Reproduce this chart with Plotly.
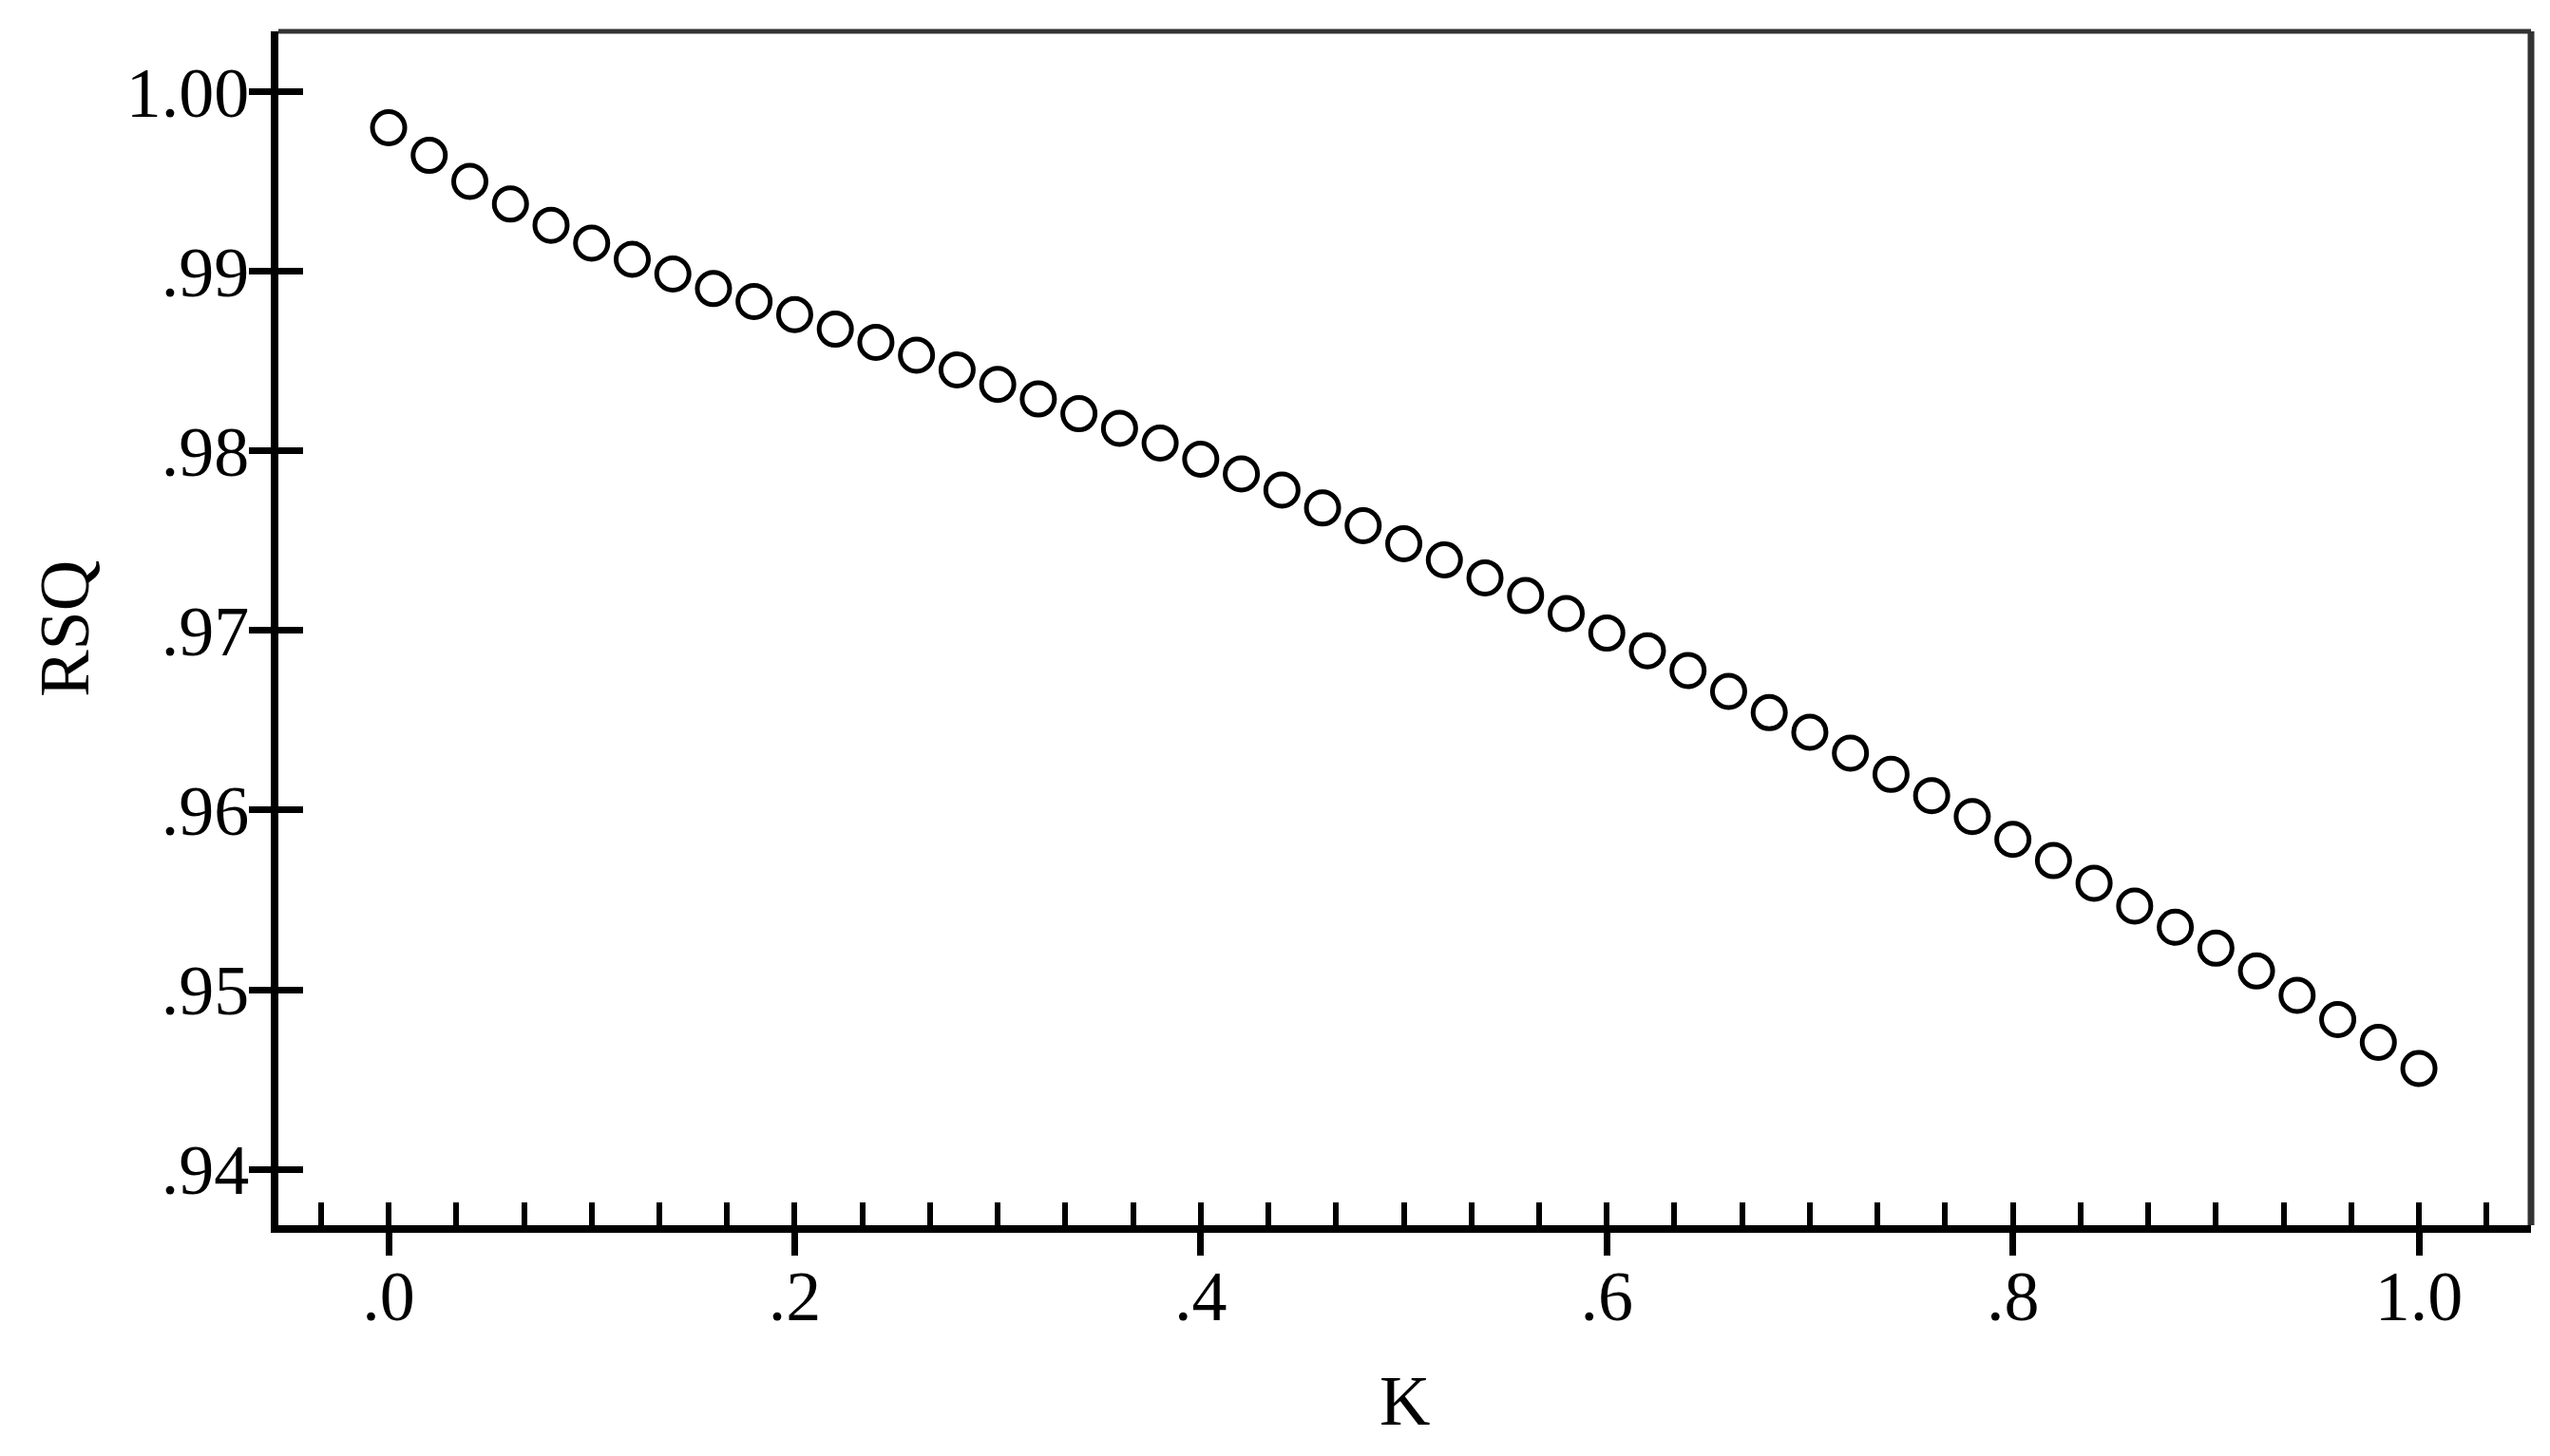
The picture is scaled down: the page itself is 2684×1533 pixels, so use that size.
import plotly.graph_objects as go

k_values = [
    0.00, 0.02, 0.04, 0.06, 0.08, 0.10, 0.12, 0.14, 0.16, 0.18,
    0.20, 0.22, 0.24, 0.26, 0.28, 0.30, 0.32, 0.34, 0.36, 0.38,
    0.40, 0.42, 0.44, 0.46, 0.48, 0.50, 0.52, 0.54, 0.56, 0.58,
    0.60, 0.62, 0.64, 0.66, 0.68, 0.70, 0.72, 0.74, 0.76, 0.78,
    0.80, 0.82, 0.84, 0.86, 0.88, 0.90, 0.92, 0.94, 0.96, 0.98,
    1.00,
]
rsq_values = [
    0.99801, 0.99647, 0.99502, 0.99376, 0.99258, 0.99158, 0.99068, 0.98986, 0.98905, 0.98833,
    0.98760, 0.98679, 0.98606, 0.98534, 0.98452, 0.98371, 0.98290, 0.98208, 0.98127, 0.98045,
    0.97955, 0.97873, 0.97783, 0.97683, 0.97584, 0.97484, 0.97394, 0.97294, 0.97195, 0.97095,
    0.96986, 0.96887, 0.96778, 0.96661, 0.96543, 0.96434, 0.96317, 0.96199, 0.96081, 0.95964,
    0.95837, 0.95719, 0.95593, 0.95466, 0.95348, 0.95231, 0.95104, 0.94968, 0.94833, 0.94706,
    0.94561,
]

x_tick_vals = [0.0, 0.2, 0.4, 0.6, 0.8, 1.0]
x_tick_text = [".0", ".2", ".4", ".6", ".8", "1.0"]
y_tick_vals = [0.94, 0.95, 0.96, 0.97, 0.98, 0.99, 1.00]
y_tick_text = [".94", ".95", ".96", ".97", ".98", ".99", "1.00"]

X_RANGE = [-0.0543, 1.0552]
Y_RANGE = [0.93688, 1.00338]
FONT = "Liberation Serif"

fig = go.Figure()
fig.add_trace(
    go.Scatter(
        x=k_values,
        y=rsq_values,
        mode="markers",
        marker={"symbol": "circle-open", "size": 34, "color": "black", "line": {"width": 5, "color": "black"}},
        showlegend=False,
        hoverinfo="x+y",
    )
)
# empty trace so the overlay axes (inner halves of ticks, minor ticks) get drawn
fig.add_trace(go.Scatter(x=[], y=[], xaxis="x2", yaxis="y2", showlegend=False, hoverinfo="skip"))

fig.update_layout(
    width=2684,
    height=1533,
    margin={"l": 285, "r": 28, "t": 25, "b": 251},
    paper_bgcolor="white",
    plot_bgcolor="white",
    font={"family": FONT, "color": "black"},
    xaxis={
        "range": X_RANGE,
        "showline": True,
        "linewidth": 8,
        "linecolor": "black",
        "ticks": "outside",
        "ticklen": 24,
        "tickwidth": 7,
        "tickcolor": "black",
        "tickvals": x_tick_vals,
        "ticktext": x_tick_text,
        "tickfont": {"family": FONT, "size": 74},
        "ticklabelstandoff": -21,
        "showgrid": False,
        "zeroline": False,
    },
    xaxis2={
        "overlaying": "x",
        "anchor": "y",
        "side": "bottom",
        "range": X_RANGE,
        "tickmode": "linear",
        "tick0": 0,
        "dtick": 0.2 / 6,
        "ticks": "inside",
        "ticklen": 24,
        "tickwidth": 6,
        "tickcolor": "black",
        "showticklabels": False,
        "showline": False,
        "showgrid": False,
        "zeroline": False,
    },
    yaxis={
        "range": Y_RANGE,
        "showline": True,
        "linewidth": 8,
        "linecolor": "black",
        "ticks": "outside",
        "ticklen": 23,
        "tickwidth": 7,
        "tickcolor": "black",
        "tickvals": y_tick_vals,
        "ticktext": y_tick_text,
        "tickfont": {"family": FONT, "size": 74},
        "ticklabelstandoff": -15,
        "showgrid": False,
        "zeroline": False,
    },
    yaxis2={
        "overlaying": "y",
        "anchor": "x",
        "side": "left",
        "range": Y_RANGE,
        "tickvals": y_tick_vals,
        "ticks": "inside",
        "ticklen": 26,
        "tickwidth": 7,
        "tickcolor": "black",
        "showticklabels": False,
        "showline": False,
        "showgrid": False,
        "zeroline": False,
    },
    shapes=[
        {"type": "line", "xref": "paper", "yref": "paper", "x0": 0, "x1": 1, "y0": 1, "y1": 1,
         "line": {"color": "#333333", "width": 5}},
        {"type": "line", "xref": "paper", "yref": "paper", "x0": 1, "x1": 1, "y0": 0, "y1": 1,
         "line": {"color": "#333333", "width": 7}},
    ],
    annotations=[
        {"text": "RSQ", "xref": "paper", "yref": "paper", "x": -0.0952, "y": 0.5, "xanchor": "center",
         "yanchor": "middle", "textangle": -90, "showarrow": False, "font": {"family": FONT, "size": 74}},
        {"text": "K", "xref": "paper", "yref": "paper", "x": 0.5, "y": -0.1472, "xanchor": "center",
         "yanchor": "middle", "showarrow": False, "font": {"family": FONT, "size": 74}},
    ],
)

fig.write_html("out.html")
